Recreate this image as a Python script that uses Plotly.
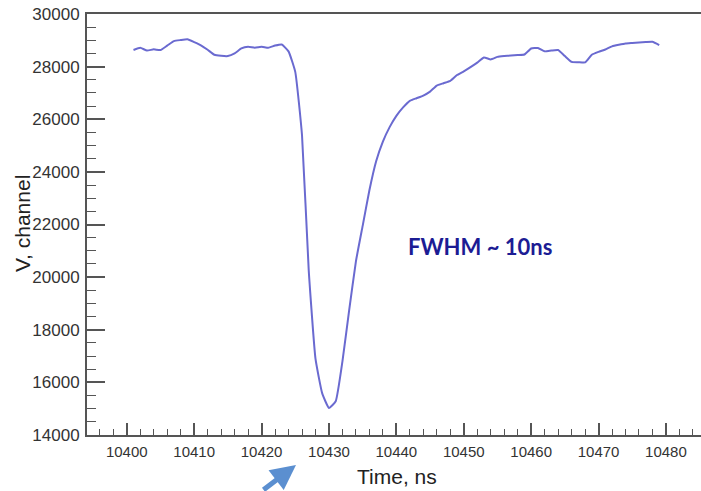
import plotly.graph_objects as go

# Digitizer waveform samples (1 ns step)
time_ns = list(range(10401, 10480))
amplitude = [
    28630, 28717, 28610, 28656, 28630, 28800, 28970, 29010, 29037, 28930,
    28810, 28640, 28450, 28410, 28400, 28500, 28690, 28756, 28720, 28756,
    28720, 28800, 28840, 28580, 27800, 25400, 20250, 16900, 15580, 15030,
    15280, 16800, 18750, 20600, 21950, 23300, 24400, 25150, 25700, 26130,
    26450, 26700, 26800, 26900, 27050, 27280, 27370, 27460, 27680, 27820,
    27980, 28150, 28350, 28275, 28370, 28400, 28420, 28440, 28460, 28690,
    28710, 28580, 28610, 28630, 28400, 28180, 28170, 28160, 28450, 28560,
    28650, 28770, 28830, 28880, 28900, 28920, 28935, 28946, 28820,
]

x_range = [10394.1, 10485.2]
y_range = [14000, 30000]
x_title = "Time, ns"
y_title = "V, channel"
note_text = "FWHM ~ 10ns"

axis_color = "#555555"
font_family = "Liberation Sans, Arial, sans-serif"

fig = go.Figure()
fig.add_trace(go.Scatter(
    x=time_ns, y=amplitude, mode="lines",
    line=dict(color="#6a6ad0", width=2, shape="spline", smoothing=0.4),
    showlegend=False, hoverinfo="skip",
))

fig.update_layout(
    width=701, height=491,
    margin=dict(l=87, r=0, t=14, b=56),
    paper_bgcolor="white", plot_bgcolor="white",
    font=dict(family=font_family, color="#333333"),
    xaxis=dict(
        range=x_range, showgrid=False, zeroline=False,
        showline=True, linecolor=axis_color, linewidth=2, mirror=True,
        ticks="inside", ticklen=12, tickwidth=1.5, tickcolor=axis_color,
        tick0=10400, dtick=10, tickformat="d",
        minor=dict(ticks="inside", ticklen=6, tickwidth=1.2,
                   tickcolor=axis_color, dtick=2, tick0=10400),
        tickfont=dict(size=15, color="#333333"),
        ticklabelstandoff=2,
    ),
    yaxis=dict(
        range=y_range, showgrid=False, zeroline=False,
        showline=True, linecolor=axis_color, linewidth=2,
        ticks="inside", ticklen=18, tickwidth=1.5, tickcolor=axis_color,
        tick0=14000, dtick=2000, tickformat="d",
        minor=dict(ticks="inside", ticklen=9, tickwidth=1.2,
                   tickcolor=axis_color, dtick=500, tick0=14000),
        tickfont=dict(size=17, color="#333333"),
        ticklabelstandoff=2,
    ),
)

# Axis titles
fig.add_annotation(
    text=x_title, xref="paper", yref="paper",
    x=(397 - 87) / 614, y=-(476 - 435) / 421,
    xanchor="center", yanchor="middle", showarrow=False,
    font=dict(size=21, color="#222222", family=font_family),
)
fig.add_annotation(
    text=y_title, xref="paper", yref="paper",
    x=-(87 - 22) / 614, y=(435 - 224) / 421, textangle=-90,
    xanchor="center", yanchor="middle", showarrow=False,
    font=dict(size=21, color="#222222", family=font_family),
)

# Pulse width note
fig.add_annotation(
    text=f"<b>{note_text}</b>", xref="paper", yref="paper",
    x=(480 - 87) / 614, y=(435 - 246) / 421,
    xanchor="center", yanchor="middle", showarrow=False,
    font=dict(size=22, color="#1c1c94", family="Lato, Open Sans, sans-serif"),
)

# Pointer arrow below the time axis
fig.add_annotation(
    text="", xref="paper", yref="paper",
    x=(296 - 87) / 614, y=-(465 - 435) / 421,
    ax=-34, ay=38, axref="pixel", ayref="pixel",
    showarrow=True, arrowhead=2, arrowsize=1.0, arrowwidth=5,
    arrowcolor="#5b8fd0",
)

fig.write_html("out.html")
